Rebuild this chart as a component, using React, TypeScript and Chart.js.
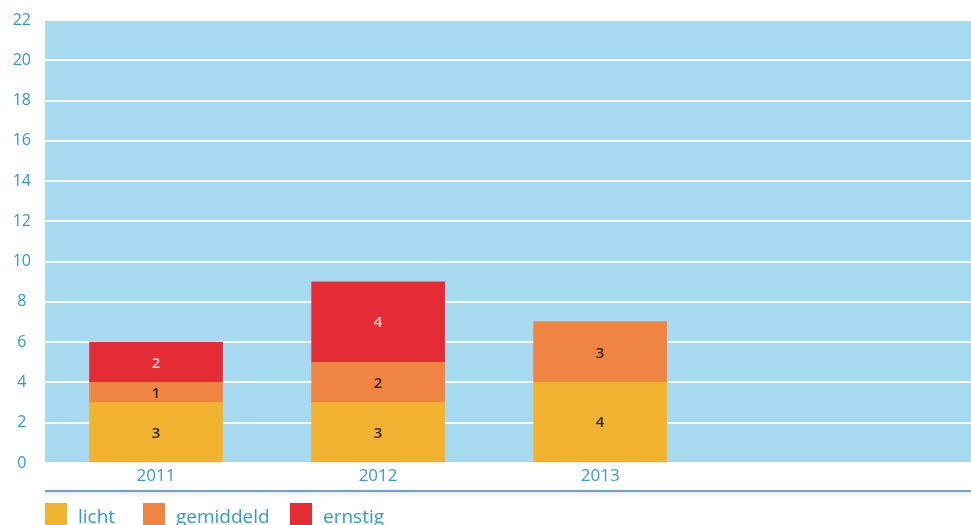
import React, { useEffect, useRef } from "react";
import { Chart, registerables } from "chart.js";

Chart.register(...registerables);

const years = ["2011", "2012", "2013"];
const licht = [3, 3, 4];
const gemiddeld = [1, 2, 3];
const ernstig = [2, 4, 0];
const seriesNames = ["licht", "gemiddeld", "ernstig"];
const seriesColors = ["#f1b32f", "#ef8443", "#e52c35"];
const labelColors = ["#2f2a1c", "#2f2a1c", "#f6d3d3"];
const legendX = [45, 143, 290];
const yTicks = [0, 2, 4, 6, 8, 10, 12, 14, 16, 18, 20, 22];

const BLUE_BG = "#a7daf1";
const TEXT_BLUE = "#2f9ad6";

const bgPlugin = {
  id: "bgPlugin",
  beforeDraw(chart: any) {
    const { ctx, chartArea } = chart;
    ctx.save();
    ctx.fillStyle = BLUE_BG;
    ctx.fillRect(chartArea.left, chartArea.top, chartArea.right - chartArea.left, chartArea.bottom - chartArea.top);
    ctx.restore();
  },
};

const valuePlugin = {
  id: "valuePlugin",
  afterDatasetsDraw(chart: any) {
    const { ctx } = chart;
    ctx.save();
    ctx.font = "600 15px 'Open Sans', sans-serif";
    ctx.textAlign = "center";
    ctx.textBaseline = "middle";
    chart.data.datasets.forEach((ds: any, di: number) => {
      const meta = chart.getDatasetMeta(di);
      meta.data.forEach((el: any, i: number) => {
        const v = ds.data[i].y;
        if (!v) return;
        const cy = (el.y + el.base) / 2;
        ctx.fillStyle = labelColors[di];
        ctx.fillText(String(v), el.x, cy + 1);
      });
    });
    ctx.restore();
  },
};

const footerPlugin = {
  id: "footerPlugin",
  afterDraw(chart: any) {
    const { ctx, chartArea } = chart;
    ctx.save();
    const grad = ctx.createLinearGradient(0, 490, 0, 500);
    grad.addColorStop(0, "rgba(150,160,170,0.35)");
    grad.addColorStop(1, "rgba(255,255,255,0)");
    ctx.fillStyle = grad;
    ctx.fillRect(chartArea.left, 492, chart.width - chartArea.left, 8);
    ctx.fillStyle = "#6c9fcc";
    ctx.fillRect(chartArea.left, 490, chart.width - chartArea.left, 2);
    ctx.font = "19px 'Open Sans', sans-serif";
    ctx.textBaseline = "alphabetic";
    ctx.textAlign = "left";
    chart.data.datasets.forEach((ds: any, di: number) => {
      const x = legendX[di];
      ctx.fillStyle = ds.backgroundColor;
      ctx.fillRect(x, 503, 22, 24);
      ctx.fillStyle = TEXT_BLUE;
      ctx.fillText(ds.label, x + 33, 523);
    });
    ctx.restore();
  },
};

export default function App() {
  const ref = useRef<HTMLCanvasElement | null>(null);

  useEffect(() => {
    if (!ref.current) return;
    const series = [licht, gemiddeld, ernstig];
    const chart = new Chart(ref.current, {
      type: "bar",
      data: {
        datasets: series.map((vals, si) => ({
          label: seriesNames[si],
          data: vals.map((v, i) => ({ x: i, y: v })),
          backgroundColor: seriesColors[si],
          borderWidth: 0,
          barThickness: 133,
        })),
      },
      options: {
        animation: false,
        responsive: false,
        maintainAspectRatio: false,
        layout: { padding: { top: 20, left: 0, right: 0, bottom: 0 } },
        plugins: {
          legend: { display: false },
          tooltip: { enabled: false },
        },
        scales: {
          x: {
            type: "linear",
            stacked: true,
            offset: false,
            min: -0.5,
            max: 3.67,
            grid: { display: false, drawTicks: false },
            border: { display: false },
            afterBuildTicks(scale: any) {
              scale.ticks = years.map((_, i) => ({ value: i }));
            },
            afterFit(scale: any) {
              scale.height = 62;
            },
            ticks: {
              autoSkip: false,
              maxRotation: 0,
              padding: 3,
              color: "#3a9bd6",
              font: { family: "'Open Sans', sans-serif", size: 17 },
              callback: (v: any) => years[Number(v)] ?? "",
            },
          },
          y: {
            stacked: true,
            min: 0,
            max: 22,
            afterBuildTicks(scale: any) {
              scale.ticks = yTicks.map((v) => ({ value: v }));
            },
            afterFit(scale: any) {
              scale.width = 45;
              scale.paddingTop = 0;
              scale.paddingBottom = 0;
            },
            grid: { color: "rgba(255,255,255,0.9)", lineWidth: 2, drawTicks: false },
            border: { display: false },
            ticks: {
              crossAlign: "center",
              padding: 14,
              color: TEXT_BLUE,
              font: { family: "'Open Sans', sans-serif", size: 16, lineHeight: 0.8 },
            },
          },
        },
      },
      plugins: [bgPlugin, valuePlugin, footerPlugin],
    } as any);
    return () => chart.destroy();
  }, []);

  return (
    <div style={{ position: "fixed", left: 0, top: 0, width: 971, height: 525, background: "#fff", overflow: "hidden" }}>
      <canvas ref={ref} width={971} height={525} style={{ display: "block", width: 971, height: 525 }} />
    </div>
  );
}
